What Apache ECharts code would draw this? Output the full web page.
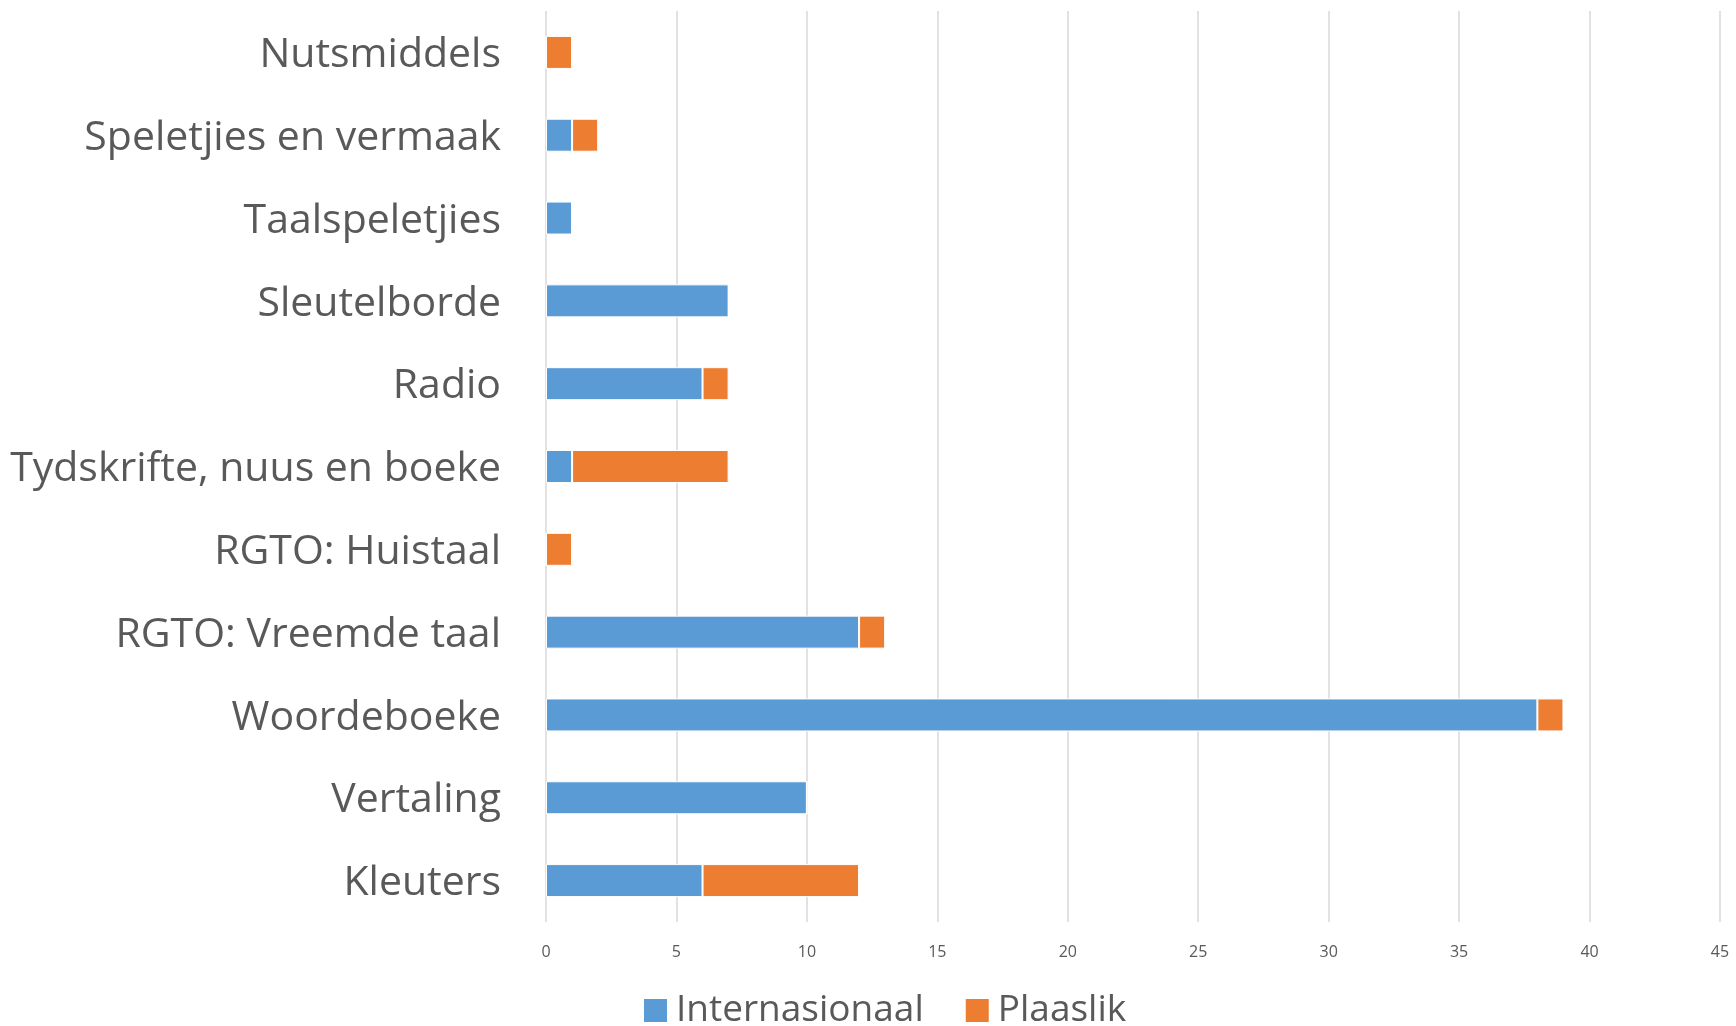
<!DOCTYPE html>
<html><head><meta charset="utf-8">
<script src="https://cdn.jsdelivr.net/npm/echarts@6/dist/echarts.min.js"></script>
<style>html,body{margin:0;padding:0;background:#fff}#c{width:1736px;height:1026px}</style>
</head><body><div id="c"></div>
<script>
const categories = ["Nutsmiddels","Speletjies en vermaak","Taalspeletjies","Sleutelborde","Radio","Tydskrifte, nuus en boeke","RGTO: Huistaal","RGTO: Vreemde taal","Woordeboeke","Vertaling","Kleuters"];
const internasionaal = [0,1,1,7,6,1,0,12,38,10,6];
const plaaslik = [1,1,0,0,1,6,1,1,1,0,6];
const seriesNames = ["Internasionaal","Plaaslik"];
const xTicks = {min:0,max:45,interval:5};

const chart = echarts.init(document.getElementById('c'));
const font = '"Open Sans", Lato, sans-serif';
chart.setOption({
  animation:false,
  textStyle:{fontFamily:font},
  grid:{left:546,right:16,top:11,bottom:104,containLabel:false},
  legend:{bottom:-8,left:637,itemWidth:25,itemHeight:25,itemGap:40,icon:'rect',
    textStyle:{fontSize:37,color:'#595959',fontFamily:font,padding:[0,0,0,3]},data:seriesNames},
  xAxis:{type:'value',min:xTicks.min,max:xTicks.max,interval:xTicks.interval,
    axisLine:{show:false},axisTick:{show:false},
    axisLabel:{fontSize:16,color:'#595959',margin:22},
    splitLine:{lineStyle:{color:'#d9d9d9',width:1.5}}},
  yAxis:{type:'category',data:categories,inverse:true,
    axisLine:{show:false},axisTick:{show:false},
    axisLabel:{fontSize:41,color:'#595959',margin:45,
      formatter:v=>'{a|'+v+'}',
      rich:{a:{fontSize:41,color:'#595959',fontFamily:font,padding:[6,0,0,0]}}}},
  series:[
    {name:seriesNames[0],type:'bar',stack:'a',data:internasionaal,barWidth:33,
     itemStyle:{color:'#5b9bd5',borderColor:'#ffffff',borderWidth:1}},
    {name:seriesNames[1],type:'bar',stack:'a',data:plaaslik,barWidth:33,
     itemStyle:{color:'#ed7d31',borderColor:'#ffffff',borderWidth:1}}
  ]
});
</script></body></html>
